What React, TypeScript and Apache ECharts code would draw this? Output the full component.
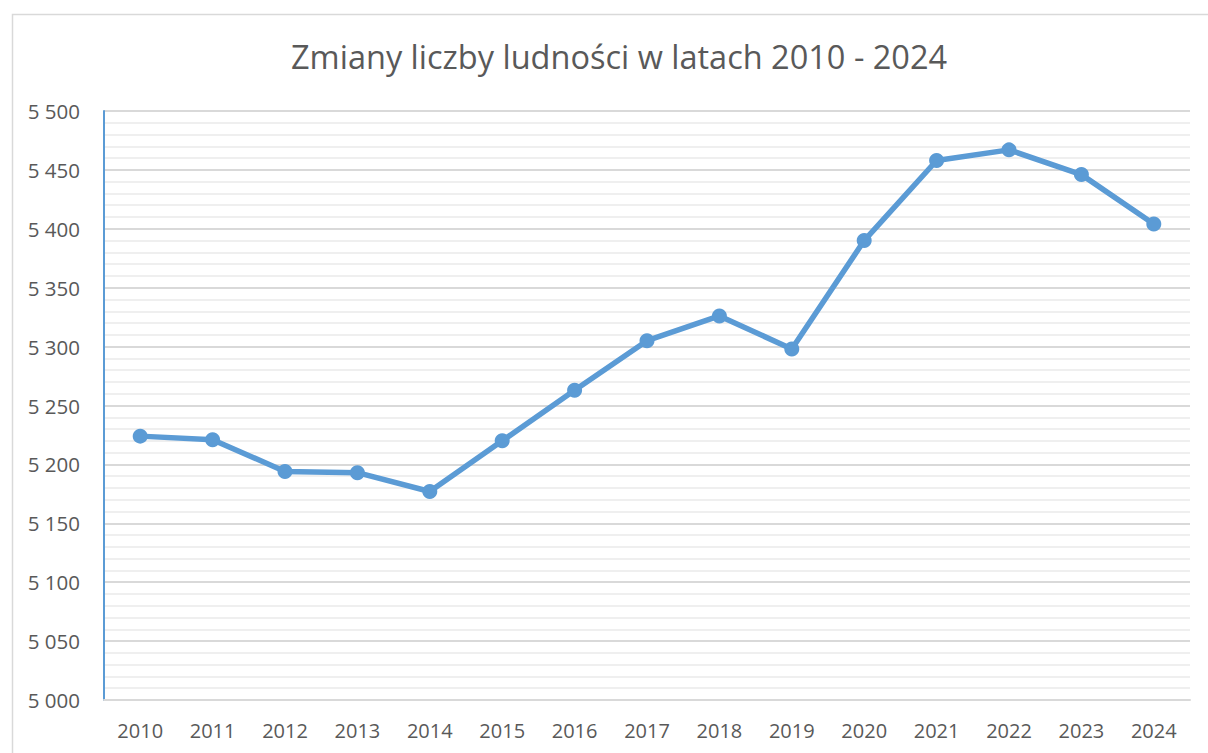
import React, { useEffect, useRef } from "react";
import * as echarts from "echarts";

const years = ["2010", "2011", "2012", "2013", "2014", "2015", "2016", "2017", "2018", "2019", "2020", "2021", "2022", "2023", "2024"];
const population = [5224, 5221, 5194, 5193, 5177, 5220, 5263, 5305, 5326, 5298, 5390, 5458, 5467, 5446, 5404];
const titleText = "Zmiany liczby ludności w latach 2010 - 2024";

const FONT = "'Open Sans', sans-serif";
const TEXT = "#595959";
const BLUE = "#5b9bd5";

export default function App() {
  const ref = useRef<HTMLDivElement>(null);

  useEffect(() => {
    if (!ref.current) return;
    const chart = echarts.init(ref.current, null, { renderer: "svg" });
    chart.setOption({
      animation: false,
      backgroundColor: "#ffffff",
      title: {
        text: titleText,
        left: 286,
        top: 35,
        textStyle: { fontFamily: FONT, fontSize: 32.5, fontWeight: "normal", color: TEXT },
      },
      graphic: [
        {
          type: "rect",
          left: 10,
          top: 12,
          shape: { x: 0, y: 0, width: 1210, height: 760 },
          style: { fill: "none", stroke: "#d9d9d9", lineWidth: 1.5 },
          silent: true,
        },
      ],
      grid: { left: 104, right: 18, top: 111, bottom: 53, containLabel: false },
      xAxis: {
        type: "category",
        data: years,
        boundaryGap: true,
        axisLine: { lineStyle: { color: "#d9d9d9", width: 2 } },
        axisTick: { show: false },
        axisLabel: { fontFamily: FONT, fontSize: 20, color: TEXT, margin: 20 },
        splitLine: { show: false },
      },
      yAxis: {
        type: "value",
        min: 5000,
        max: 5500,
        interval: 50,
        axisLine: { show: true, lineStyle: { color: BLUE, width: 2 } },
        axisTick: { show: false },
        axisLabel: {
          fontFamily: FONT,
          fontSize: 20.5,
          color: TEXT,
          margin: 24,
          formatter: (v: number) => String(v).replace(/\B(?=(\d{3})+(?!\d))/g, " "),
        },
        splitLine: { show: true, lineStyle: { color: "#d9d9d9", width: 2 } },
        minorTick: { show: false, splitNumber: 5 },
        minorSplitLine: { show: true, lineStyle: { color: "#efefef", width: 2 } },
      },
      series: [
        {
          type: "line",
          data: population,
          symbol: "circle",
          symbolSize: 15,
          lineStyle: { color: BLUE, width: 5.5 },
          itemStyle: { color: BLUE },
          z: 3,
        },
      ],
    });
    return () => chart.dispose();
  }, []);

  return <div ref={ref} style={{ position: "fixed", left: 0, top: 0, width: 1208, height: 753 }} />;
}
